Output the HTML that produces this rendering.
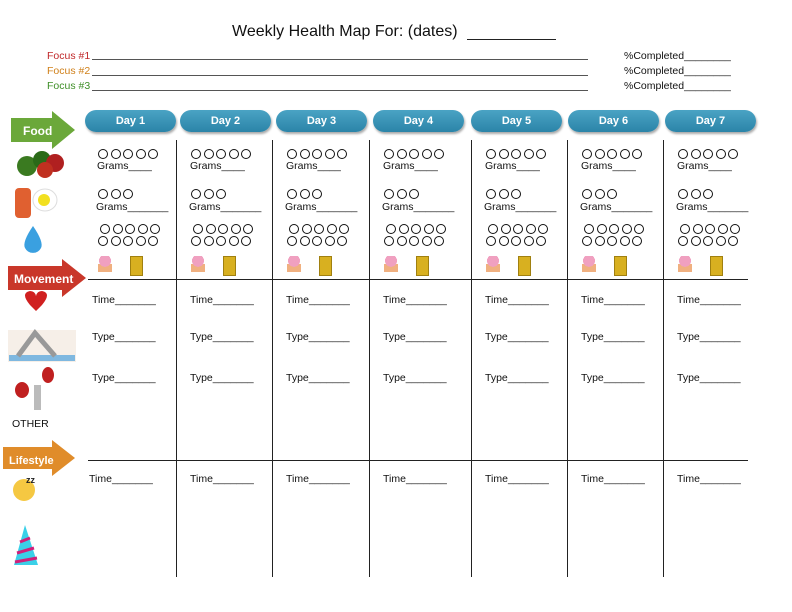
<!DOCTYPE html>
<html><head><meta charset="utf-8">
<style>
body{margin:0;background:#fff;width:792px;height:612px;position:relative;overflow:hidden;font-family:"Liberation Sans",sans-serif;}
.a{position:absolute;}
.t{position:absolute;font-size:10.5px;color:#111;white-space:nowrap;}
.ln{position:absolute;background:#222;}
.pill{position:absolute;height:22px;border-radius:11px;background:linear-gradient(#4aa3c4,#2b84a8);color:#fff;font-weight:bold;font-size:11px;text-align:center;line-height:22px;box-shadow:1px 2px 2px #aaa;}
.circ{position:absolute;white-space:nowrap;height:10px;}
.circ span{display:inline-block;width:8px;height:8px;border:1.3px solid #111;border-radius:50%;margin-right:2.5px;vertical-align:top;}
</style></head><body>
<div class="t" style="left:232px;top:23px;font-size:16px;">Weekly Health Map For: (dates)</div>
<div class="ln" style="left:467px;top:39px;width:89px;height:1px;"></div>

<div class="t" style="left:47px;top:50px;color:#c0282a;">Focus #1</div>
<div class="t" style="left:47px;top:65px;color:#d0801a;">Focus #2</div>
<div class="t" style="left:47px;top:80px;color:#3f8f28;">Focus #3</div>
<div class="ln" style="left:92px;top:59px;width:496px;height:1px;background:#555;"></div>
<div class="ln" style="left:92px;top:75px;width:496px;height:1px;background:#555;"></div>
<div class="ln" style="left:92px;top:90px;width:496px;height:1px;background:#555;"></div>
<div class="t" style="left:624px;top:50px;">%Completed________</div>
<div class="t" style="left:624px;top:65px;">%Completed________</div>
<div class="t" style="left:624px;top:80px;">%Completed________</div>

<svg class="a" style="left:0;top:0" width="90" height="612">
<polygon points="11,118 52,118 52,111 75,130 52,149 52,142 11,142" fill="#6ba83a"/>
<text x="23" y="135" fill="#fff" font-weight="bold" font-size="12" font-family="Liberation Sans">Food</text>
<polygon points="8,266 62,266 62,259 86,278 62,297 62,290 8,290" fill="#c9372a"/>
<text x="14" y="283" fill="#fff" font-weight="bold" font-size="12" font-family="Liberation Sans">Movement</text>
<polygon points="3,447 52,447 52,440 75,458 52,476 52,469 3,469" fill="#e08c2a"/>
<text x="9" y="464" fill="#fff" font-weight="bold" font-size="11" font-family="Liberation Sans">Lifestyle</text>
<circle cx="27" cy="166" r="10" fill="#3a7a20"/><circle cx="42" cy="160" r="9" fill="#2a6a18"/><circle cx="55" cy="163" r="9" fill="#b02020"/><circle cx="45" cy="170" r="8" fill="#c03020"/>
<rect x="15" y="188" width="16" height="30" rx="4" fill="#e06030"/><ellipse cx="45" cy="200" rx="12" ry="11" fill="#fff" stroke="#ddd"/><circle cx="44" cy="200" r="6" fill="#f2e020"/>
<path d="M33,226 Q22,242 25,248 A9,9 0 0 0 41,248 Q44,242 33,226Z" fill="#3aa0e0"/>
<path d="M30,305 q-10,-12 0,-14 q5,0 6,5 q1,-5 6,-5 q10,2 0,14 l-6,6z" fill="#d02020"/>
<rect x="8" y="330" width="68" height="32" fill="#f6efe8"/><rect x="9" y="355" width="66" height="6" fill="#7fb8e0"/><path d="M18,356 L35,333 L55,356" stroke="#999" stroke-width="5" fill="none"/>
<ellipse cx="22" cy="390" rx="7" ry="8" fill="#c02020"/><ellipse cx="48" cy="375" rx="6" ry="8" fill="#c02020"/><rect x="34" y="385" width="7" height="25" fill="#bbb"/>
<text x="12" y="427" fill="#111" font-size="10.5" font-family="Liberation Sans">OTHER</text>
<circle cx="24" cy="490" r="11" fill="#f5c842"/><text x="26" y="483" font-size="9" font-weight="bold" fill="#222" font-family="Liberation Sans">zz</text>
<polygon points="25,525 14,565 38,565" fill="#3ad0e8"/><path d="M20,542 L30,538 M17,553 L34,548 M15,562 L37,558" stroke="#d0207a" stroke-width="3"/>
</svg>

<div id="grid"></div>
<script>
const days=["Day 1","Day 2","Day 3","Day 4","Day 5","Day 6","Day 7"];
const pillX=[85,180,276,373,471,568,665];
const colX=[88,176,272,369,471,567,663];
const g=document.getElementById('grid');
function add(cls,name,inter,style,txt){const d=document.createElement('div');d.className=cls;


d.style.cssText=style;if(txt)d.textContent=txt;g.appendChild(d);return d;}
function circles(name,x,y,n){const d=add('circ',name,'true',`left:${x}px;top:${y}px;`);for(let k=0;k<n;k++){d.appendChild(document.createElement('span'));}}
days.forEach((d,i)=>{
  add('pill','day-header','false',`left:${pillX[i]}px;top:110px;width:91px;`,d);
  const x=colX[i];
  if(i>0) add('ln','column-divider','false',`left:${x}px;top:140px;width:1px;height:437px;`);
  const c=x+(i==0?10:15);
  circles('veg-servings',c,149,5);
  add('t','veg-grams','true',`left:${c-1}px;top:160px;`,'Grams____');
  circles('protein-servings',c,189,3);
  add('t','protein-grams','true',`left:${c-2}px;top:201px;`,'Grams_______');
  circles('water-servings-1',c+2,224,5);
  circles('water-servings-2',c,236,5);
  add('a','cupcake-icon','true',`left:${c}px;top:256px;width:14px;height:16px;background:radial-gradient(circle at 50% 30%,#f0a0c0 45%,transparent 46%),linear-gradient(transparent 50%,#f0b080 50%);`);
  add('a','beer-icon','true',`left:${c+32}px;top:256px;width:11px;height:18px;background:#d8b020;border:1px solid #a08010;`);
  const o=i==0?4:14;
  add('t','movement-time','true',`left:${x+o}px;top:294px;`,'Time_______');
  add('t','movement-type-1','true',`left:${x+o}px;top:331px;`,'Type_______');
  add('t','movement-type-2','true',`left:${x+o}px;top:372px;`,'Type_______');
  add('t','sleep-time','true',`left:${x+(i==0?1:14)}px;top:473px;`,'Time_______');
});
add('ln','movement-divider','false','left:88px;top:279px;width:660px;height:1px;');
add('ln','lifestyle-divider','false','left:88px;top:460px;width:660px;height:1px;');
</script>
</body></html>
